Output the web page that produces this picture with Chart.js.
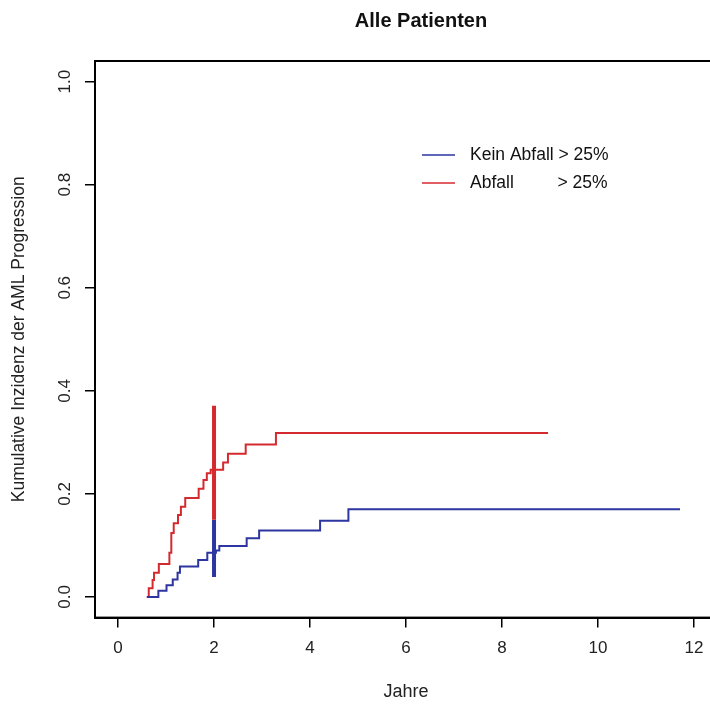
<!DOCTYPE html>
<html>
<head>
<meta charset="utf-8">
<script src="https://cdn.jsdelivr.net/npm/chart.js@4.4.1/dist/chart.umd.min.js"></script>
<style>
html, body { margin: 0; padding: 0; background: #fff; overflow: hidden; }
canvas { display: block; }
</style>
</head>
<body>
<canvas id="chart" width="730" height="704"></canvas>
<script>
// Kumulative Inzidenz (step curves)
const redTimes = [0.60, 0.64, 0.72, 0.75, 0.85, 1.07, 1.11, 1.16, 1.25, 1.31, 1.40, 1.68, 1.78, 1.85, 1.93, 2.19, 2.29, 2.66, 3.29, 8.96];
const redValues = [0, 0.017, 0.033, 0.047, 0.064, 0.086, 0.124, 0.143, 0.159, 0.175, 0.192, 0.210, 0.227, 0.240, 0.247, 0.261, 0.278, 0.296, 0.318, 0.318];

const blueTimes = [0.60, 0.84, 1.01, 1.14, 1.24, 1.29, 1.67, 1.86, 2.04, 2.11, 2.68, 2.94, 4.21, 4.80, 11.71];
const blueValues = [0, 0.012, 0.023, 0.034, 0.047, 0.059, 0.072, 0.086, 0.090, 0.099, 0.114, 0.129, 0.148, 0.170, 0.170];

// vertical bars at 2 Jahre
const ciTime = 2;
const redCI = [0.150, 0.371];
const blueCI = [0.039, 0.150];

const xTicks = [0, 2, 4, 6, 8, 10, 12];
const yTicks = [0, 0.2, 0.4, 0.6, 0.8, 1.0];

const seriesLabels = ['Kein Abfall > 25%', 'Abfall         > 25%'];
const blue = '#2d35a0';
const red = '#d42a2f';
const FONT = "'Liberation Sans', Arial, sans-serif";

function toPoints(ts, vs) {
    return ts.map((t, i) => ({ x: t, y: vs[i] }));
}

// plot frame, title and legend the way R draws them
const frame = {
    id: 'frame',
    afterDraw(chart) {
        const { ctx, chartArea: a } = chart;
        ctx.save();
        ctx.strokeStyle = '#000';
        ctx.lineWidth = 2;
        ctx.strokeRect(a.left, a.top, a.right - a.left, a.bottom - a.top);

        ctx.fillStyle = '#111';
        ctx.font = 'bold 20px ' + FONT;
        ctx.textAlign = 'center';
        ctx.textBaseline = 'middle';
        ctx.fillText('Alle Patienten', 421, 21);

        const rows = [[blue, seriesLabels[0], 155], [red, seriesLabels[1], 183]];
        ctx.font = '17.5px ' + FONT;
        ctx.textAlign = 'left';
        rows.forEach(([col, txt, y]) => {
            ctx.strokeStyle = col;
            ctx.lineWidth = 1.5;
            ctx.beginPath();
            ctx.moveTo(422, y);
            ctx.lineTo(455, y);
            ctx.stroke();
            ctx.fillStyle = '#111';
            ctx.fillText(txt, 470, y);
        });
        ctx.restore();
    }
};

const ctx = document.getElementById('chart').getContext('2d');
new Chart(ctx, {
    type: 'scatter',
    data: {
        datasets: [
            {
                label: 'CI Abfall',
                data: [{ x: ciTime, y: redCI[0] }, { x: ciTime, y: redCI[1] }],
                showLine: true, borderColor: red, borderWidth: 4, pointRadius: 0, order: 0
            },
            {
                label: 'CI Kein Abfall',
                data: [{ x: ciTime, y: blueCI[0] }, { x: ciTime, y: blueCI[1] }],
                showLine: true, borderColor: blue, borderWidth: 4, pointRadius: 0, order: 0
            },
            {
                label: seriesLabels[0],
                data: toPoints(blueTimes, blueValues),
                showLine: true, stepped: true, borderColor: blue, borderWidth: 2, pointRadius: 0, order: 1
            },
            {
                label: seriesLabels[1],
                data: toPoints(redTimes, redValues),
                showLine: true, stepped: true, borderColor: red, borderWidth: 2, pointRadius: 0, order: 1
            }
        ]
    },
    options: {
        responsive: false,
        animation: false,
        devicePixelRatio: 1,
        layout: { padding: { top: 61, right: 13, left: 0, bottom: 0 } },
        plugins: { legend: { display: false }, tooltip: { enabled: false }, title: { display: false } },
        scales: {
            x: {
                type: 'linear',
                min: -0.48,
                max: 12.48,
                afterFit: s => { s.height = 86.4; },
                afterBuildTicks: s => { s.ticks = xTicks.map(v => ({ value: v })); },
                grid: { display: true, drawOnChartArea: false, drawTicks: true, tickLength: 10, color: '#000', lineWidth: 1.5 },
                border: { display: true, color: '#000', width: 2 },
                ticks: {
                    color: '#222', padding: 11, maxRotation: 0,
                    font: { family: FONT, size: 17 },
                    callback: v => String(v)
                },
                title: {
                    display: true, text: 'Jahre', color: '#222',
                    font: { family: FONT, size: 18 },
                    padding: { top: 0, bottom: 1 }
                }
            },
            y: {
                type: 'linear',
                min: -0.04,
                max: 1.04,
                afterFit: s => { s.width = 95; },
                afterBuildTicks: s => { s.ticks = yTicks.map(v => ({ value: v })); },
                grid: { display: true, drawOnChartArea: false, drawTicks: true, tickLength: 10, color: '#000', lineWidth: 1.5 },
                border: { display: true, color: '#000', width: 2 },
                ticks: {
                    color: '#222', padding: 8, minRotation: 90, maxRotation: 90, crossAlign: 'center',
                    font: { family: FONT, size: 17 },
                    callback: v => v.toFixed(1)
                },
                title: {
                    display: true, text: 'Kumulative Inzidenz der AML Progression', color: '#222',
                    font: { family: FONT, size: 17.5 },
                    padding: { top: 9, bottom: 0 }
                }
            }
        }
    },
    plugins: [frame]
});
</script>
</body>
</html>
